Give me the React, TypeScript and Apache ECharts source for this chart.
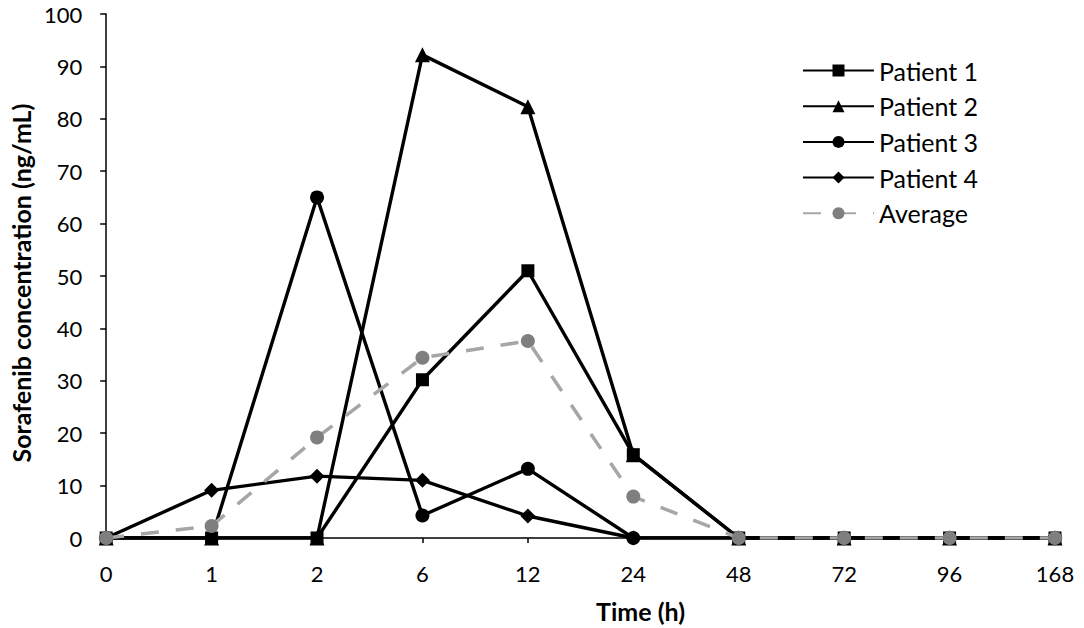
import React, { useEffect, useRef } from "react";
import * as echarts from "echarts";

const timeLabels = ["0", "1", "2", "6", "12", "24", "48", "72", "96", "168"];
const patient1 = [0, 0, 0, 30.2, 51, 15.9, 0, 0, 0, 0];
const patient2 = [0, 0, 0, 92.2, 82.3, 15.9, 0, 0, 0, 0];
const patient3 = [0, 0, 65, 4.3, 13.2, 0, 0, 0, 0, 0];
const patient4 = [0, 9.1, 11.8, 11, 4.2, 0, 0, 0, 0, 0];
const average = [0, 2.3, 19.2, 34.4, 37.6, 7.9, 0, 0, 0, 0];

const FONT = "Lato";

export default function App() {
  const ref = useRef<HTMLDivElement>(null);
  useEffect(() => {
    if (!ref.current) return;
    const chart = echarts.init(ref.current, null, { renderer: "svg" });
    const blackLine = (name: string, data: number[], symbol: string, size: number, z: number) => ({
      name,
      type: "line",
      data,
      symbol,
      symbolSize: size,
      z,
      lineStyle: { color: "#000", width: 3.4 },
      itemStyle: { color: "#000" },
      emphasis: { disabled: true },
    });
    chart.setOption({
      animation: false,
      textStyle: { fontFamily: FONT },
      grid: { left: 106, right: 29, top: 14, bottom: 90, containLabel: false },
      legend: {
        orient: "vertical",
        left: 797,
        top: 53,
        itemWidth: 71,
        itemHeight: 15,
        itemGap: 10.7,
        textStyle: { fontFamily: FONT, fontSize: 25, color: "#000" },
        data: ["Patient 1", "Patient 2", "Patient 3", "Patient 4", "Average"],
      },
      xAxis: {
        type: "category",
        data: timeLabels,
        boundaryGap: false,
        name: "Time (h)",
        nameLocation: "middle",
        nameGap: 60,
        nameTextStyle: {
          fontFamily: FONT,
          fontSize: 25,
          fontWeight: "bold",
          color: "#000",
          padding: [0, 0, 0, 120],
        },
        axisLine: { lineStyle: { color: "#000", width: 1.5 } },
        axisTick: { show: true, length: 5, alignWithLabel: true, lineStyle: { color: "#000", width: 1.5 } },
        axisLabel: { fontFamily: FONT, fontSize: 22, color: "#000", margin: 24 },
        splitLine: { show: false },
      },
      yAxis: {
        type: "value",
        min: 0,
        max: 100,
        interval: 10,
        name: "Sorafenib concentration (ng/mL)",
        nameLocation: "middle",
        nameGap: 73,
        nameTextStyle: {
          fontFamily: FONT,
          fontSize: 25,
          fontWeight: "bold",
          color: "#000",
          padding: [0, 14, 0, 0],
        },
        axisLine: { show: true, lineStyle: { color: "#000", width: 1.5 } },
        axisTick: { show: true, length: 6, lineStyle: { color: "#000", width: 1.5 } },
        axisLabel: { fontFamily: FONT, fontSize: 22, color: "#000", margin: 24 },
        splitLine: { show: false },
      },
      series: [
        blackLine("Patient 1", patient1, "rect", 13, 5),
        blackLine("Patient 2", patient2, "triangle", 15, 3),
        blackLine("Patient 3", patient3, "circle", 14, 4),
        blackLine("Patient 4", patient4, "diamond", 15, 2),
        {
          name: "Average",
          type: "line",
          data: average,
          symbol: "circle",
          symbolSize: 14,
          z: 6,
          lineStyle: { color: "#a6a6a6", width: 3.5, type: [18, 17] },
          itemStyle: { color: "#7f7f7f" },
          emphasis: { disabled: true },
        },
      ],
    });
    return () => chart.dispose();
  }, []);
  return (
    <div
      ref={ref}
      style={{ position: "fixed", left: 0, top: 0, width: 1084, height: 628, background: "#fff" }}
    />
  );
}
